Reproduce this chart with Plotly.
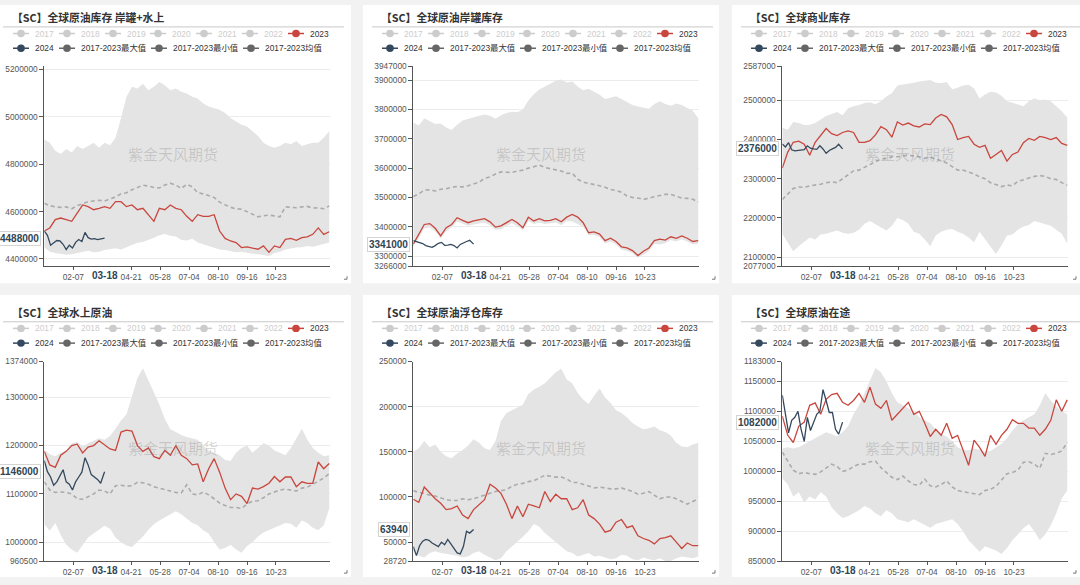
import plotly.graph_objects as go
import pandas as pd

# ---------------- categories ----------------
ALL_DAYS = [d.strftime("%m-%d") for d in pd.date_range("2024-01-01", "2024-12-31")]
WEEKS = ALL_DAYS[::7]
DAYS_2024 = ["01-01", "01-05", "01-09", "01-13", "01-17", "01-21", "01-25", "01-29",
             "02-02", "02-06", "02-10", "02-14", "02-18", "02-22", "02-26", "03-01",
             "03-05", "03-09", "03-13", "03-18"]
X_TICKS = ["02-07", "04-21", "05-28", "07-04", "08-10", "09-16", "10-23"]

TITLES = ["【SC】全球原油库存 岸罐+水上", "【SC】全球原油岸罐库存", "【SC】全球商业库存",
          "【SC】全球水上原油", "【SC】全球原油浮仓库存", "【SC】全球原油在途"]

LEGEND_ROW1 = ["2017", "2018", "2019", "2020", "2021", "2022", "2023"]
LEGEND_ROW2 = ["2024", "2017-2023最大值", "2017-2023最小值", "2017-2023均值"]

# ---------------- values (thousand barrels) ----------------
P1_MAX = [4905, 4891, 4857, 4843, 4864, 4850, 4877, 4864, 4877, 4891, 4870, 4891, 4880, 4912, 4995, 5085,
          5127, 5120, 5140, 5113, 5127, 5147, 5134, 5113, 5120, 5106, 5099, 5085, 5078, 5057, 5044, 5037,
          5030, 5016, 4995, 4981, 4967, 4960, 4940, 4919, 4891, 4877, 4870, 4877, 4891, 4884, 4898, 4877,
          4884, 4891, 4891, 4912, 4940]
P1_MIN = [4450, 4430, 4425, 4420, 4418, 4420, 4425, 4430, 4435, 4428, 4430, 4438, 4440, 4445, 4440, 4450,
          4460, 4468, 4472, 4480, 4490, 4500, 4505, 4498, 4495, 4480, 4478, 4485, 4470, 4462, 4455, 4445,
          4440, 4438, 4432, 4428, 4430, 4425, 4422, 4420, 4415, 4412, 4425, 4430, 4440, 4445, 4448, 4450,
          4455, 4452, 4458, 4465, 4470]
P1_MEAN = [4635, 4625, 4620, 4618, 4620, 4612, 4625, 4632, 4642, 4645, 4648, 4645, 4652, 4662, 4675, 4680,
           4692, 4702, 4712, 4708, 4702, 4700, 4712, 4720, 4712, 4698, 4715, 4705, 4680, 4675, 4668, 4660,
           4640, 4630, 4618, 4612, 4610, 4600, 4590, 4578, 4582, 4585, 4582, 4578, 4620, 4618, 4616, 4620,
           4622, 4615, 4616, 4612, 4624]
P1_2023 = [4518, 4531, 4566, 4573, 4566, 4559, 4594, 4628, 4621, 4608, 4614, 4621, 4614, 4642, 4642, 4621,
           4628, 4608, 4614, 4587, 4559, 4614, 4608, 4628, 4614, 4608, 4580, 4559, 4587, 4580, 4580, 4587,
           4518, 4487, 4476, 4469, 4448, 4451, 4446, 4441, 4455, 4428, 4455, 4448, 4483, 4487, 4479, 4490,
           4493, 4504, 4531, 4504, 4515]
P1_2024 = [4518, 4500, 4458, 4470, 4478, 4476, 4462, 4440, 4458, 4446, 4470, 4482, 4474, 4512, 4490, 4484,
           4486, 4482, 4484, 4488]

P2_MAX = [3755, 3745, 3770, 3760, 3750, 3752, 3738, 3730, 3748, 3762, 3768, 3772, 3778, 3783, 3778, 3768,
          3780, 3788, 3792, 3790, 3800, 3830, 3852, 3868, 3878, 3890, 3898, 3902, 3892, 3895, 3878, 3865,
          3870, 3860, 3850, 3835, 3840, 3845, 3835, 3825, 3815, 3810, 3805, 3802, 3818, 3828, 3818, 3812,
          3820, 3815, 3805, 3795, 3770]
P2_MIN = [3335, 3362, 3395, 3398, 3385, 3360, 3385, 3398, 3418, 3412, 3404, 3408, 3412, 3415, 3405, 3390,
          3392, 3402, 3412, 3402, 3388, 3420, 3410, 3415, 3410, 3412, 3415, 3405, 3420, 3418, 3410, 3400,
          3372, 3372, 3365, 3343, 3350, 3340, 3322, 3318, 3310, 3295, 3305, 3318, 3342, 3340, 3345, 3355,
          3350, 3358, 3350, 3340, 3342]
P2_MEAN = [3503, 3512, 3525, 3526, 3522, 3528, 3530, 3535, 3537, 3536, 3540, 3546, 3552, 3565, 3570, 3580,
           3587, 3586, 3585, 3590, 3593, 3600, 3606, 3610, 3602, 3598, 3593, 3590, 3582, 3583, 3562, 3552,
           3548, 3545, 3540, 3535, 3527, 3524, 3518, 3505, 3500, 3498, 3493, 3498, 3503, 3507, 3511, 3510,
           3505, 3498, 3497, 3494, 3485]
P2_2023 = [3341, 3375, 3408, 3411, 3395, 3369, 3397, 3408, 3431, 3422, 3414, 3420, 3425, 3428, 3417, 3399,
           3403, 3414, 3425, 3414, 3397, 3433, 3420, 3428, 3420, 3422, 3428, 3417, 3433, 3442, 3433, 3414,
           3380, 3383, 3375, 3353, 3361, 3350, 3332, 3328, 3319, 3302, 3317, 3328, 3353, 3358, 3355, 3366,
           3361, 3369, 3361, 3350, 3353]
P2_2024 = [3353, 3350, 3345, 3343, 3336, 3332, 3330, 3336, 3344, 3347, 3337, 3338, 3340, 3336, 3328, 3340,
           3346, 3350, 3354, 3341]

P3_MAX = [2430, 2425, 2445, 2442, 2437, 2438, 2442, 2450, 2460, 2465, 2470, 2462, 2480, 2485, 2488, 2493,
          2495, 2490, 2498, 2510, 2518, 2538, 2540, 2542, 2545, 2548, 2550, 2552, 2545, 2544, 2547, 2528,
          2532, 2538, 2540, 2530, 2505, 2515, 2522, 2520, 2512, 2498, 2494, 2490, 2485, 2498, 2505, 2500,
          2502, 2498, 2485, 2472, 2456]
P3_MIN = [2160, 2138, 2115, 2128, 2140, 2150, 2145, 2158, 2160, 2164, 2168, 2162, 2160, 2162, 2170, 2185,
          2192, 2184, 2175, 2168, 2180, 2200, 2195, 2185, 2165, 2160, 2145, 2128, 2155, 2165, 2170, 2172,
          2165, 2160, 2150, 2138, 2165, 2145, 2128, 2108, 2130, 2155, 2158, 2170, 2178, 2182, 2192, 2188,
          2182, 2180, 2170, 2160, 2135]
P3_MEAN = [2247, 2262, 2275, 2279, 2278, 2282, 2284, 2286, 2290, 2292, 2290, 2300, 2312, 2320, 2322, 2328,
           2336, 2344, 2350, 2352, 2356, 2356, 2358, 2360, 2358, 2356, 2352, 2355, 2350, 2346, 2340, 2330,
           2322, 2322, 2318, 2312, 2305, 2300, 2290, 2285, 2280, 2284, 2282, 2293, 2298, 2302, 2306, 2308,
           2306, 2300, 2298, 2290, 2283]
P3_2023 = [2327, 2368, 2393, 2396, 2388, 2360, 2393, 2410, 2428, 2415, 2410, 2418, 2422, 2418, 2393, 2393,
           2397, 2412, 2433, 2425, 2406, 2445, 2437, 2442, 2435, 2432, 2440, 2438, 2455, 2464, 2458, 2438,
           2400, 2405, 2408, 2388, 2380, 2385, 2352, 2362, 2372, 2345, 2362, 2368, 2392, 2403, 2398, 2408,
           2405, 2400, 2405, 2390, 2385]
P3_2024 = [2389, 2381, 2392, 2374, 2371, 2372, 2374, 2374, 2384, 2378, 2376, 2375, 2384, 2376, 2365, 2372,
           2376, 2380, 2388, 2376]

P4_MAX = [1192, 1182, 1178, 1185, 1190, 1205, 1208, 1198, 1205, 1210, 1215, 1212, 1220, 1235, 1252, 1265,
          1300, 1340, 1360, 1335, 1310, 1285, 1255, 1234, 1228, 1222, 1218, 1215, 1212, 1200, 1190, 1185,
          1180, 1170, 1168, 1185, 1195, 1200, 1185, 1195, 1205, 1200, 1190, 1185, 1180, 1195, 1215, 1235,
          1212, 1195, 1185, 1178, 1180]
P4_MIN = [1037, 1024, 1040, 1015, 995, 985, 978, 995, 1010, 1018, 1026, 1034, 1028, 1010, 1000, 993,
          990, 1000, 1012, 1026, 1037, 1045, 1051, 1058, 1064, 1058, 1048, 1040, 1035, 1025, 1018, 1000,
          985, 988, 995, 985, 978, 992, 1000, 1012, 1020, 1025, 1030, 1035, 1040, 1038, 1030, 1045,
          1040, 1030, 1025, 1035, 1070]
P4_MEAN = [1125, 1108, 1103, 1104, 1103, 1100, 1090, 1089, 1094, 1100, 1108, 1106, 1100, 1117, 1118, 1116,
           1117, 1124, 1123, 1120, 1115, 1112, 1108, 1105, 1103, 1102, 1119, 1100, 1098, 1104, 1098, 1090,
           1081, 1076, 1072, 1072, 1070, 1079, 1085, 1086, 1092, 1100, 1104, 1108, 1110, 1108, 1106, 1112,
           1114, 1120, 1126, 1133, 1142]
P4_2023 = [1188, 1160, 1155, 1180, 1188, 1200, 1203, 1185, 1197, 1200, 1210, 1202, 1193, 1190, 1228, 1232,
           1230, 1200, 1188, 1195, 1177, 1173, 1190, 1180, 1200, 1180, 1173, 1160, 1162, 1125, 1152, 1173,
           1145, 1112, 1088, 1100, 1095, 1080, 1112, 1110, 1115, 1122, 1136, 1125, 1135, 1135, 1115, 1125,
           1122, 1122, 1166, 1152, 1163]
P4_2024 = [1169, 1146, 1135, 1118, 1125, 1138, 1150, 1125, 1120, 1108, 1125, 1135, 1145, 1175, 1160, 1140,
           1135, 1130, 1122, 1146]

P5_MAX = [150, 154, 162, 155, 158, 150, 145, 143, 148, 152, 157, 164, 160, 154, 152, 162,
          184, 193, 196, 199, 202, 214, 219, 222, 226, 232, 238, 242, 230, 226, 215, 208,
          203, 212, 220, 210, 204, 196, 193, 188, 182, 178, 175, 176, 178, 174, 172, 168,
          160, 156, 155, 158, 160]
P5_MIN = [40, 35, 33, 38, 40, 38, 37, 36, 35, 33, 34, 38, 40, 36, 33, 30,
          32, 40, 45, 50, 56, 62, 70, 67, 60, 55, 50, 45, 40, 38, 34, 36,
          38, 34, 35, 33, 31, 32, 36, 35, 31, 30, 33, 31, 30, 32, 29, 29,
          32, 34, 33, 32, 34]
P5_MEAN = [107, 105, 104, 102, 101, 99, 97, 96, 96, 98, 97, 98, 100, 102, 104, 106,
           107, 108, 112, 114, 115, 117, 118, 121, 124, 123, 122, 122, 120, 116, 116, 114,
           112, 110, 111, 110, 109, 109, 110, 108, 106, 103, 104, 106, 102, 98, 100, 100,
           98, 95, 92, 95, 98]
P5_2023 = [97.5, 94, 111, 104, 98, 93, 86, 87, 90, 80, 76, 86, 92, 97, 114, 110,
           104, 92, 76, 90, 78, 92, 90, 88, 106, 95, 103, 98, 98, 86, 88, 97,
           80, 76, 70, 61, 63, 72, 75, 66, 68, 57, 54, 52, 48, 54, 55, 57,
           50, 43, 49, 46, 46]
P5_2024 = [45, 35, 46, 51, 53, 52, 49, 47, 45, 50, 47, 53, 48, 42, 38, 37,
           45, 62, 60, 63.94]

P6_MAX = [1038, 1040, 1038, 1040, 1045, 1050, 1055, 1060, 1065, 1062, 1058, 1065, 1075, 1095, 1110, 1130,
          1150, 1172, 1165, 1150, 1130, 1115, 1110, 1105, 1100, 1090, 1085, 1080, 1070, 1062, 1058, 1050,
          1040, 1036, 1035, 1038, 1036, 1032, 1034, 1040, 1046, 1055, 1068, 1078, 1085, 1090, 1095, 1110,
          1130, 1118, 1108, 1100, 1095]
P6_MIN = [988, 978, 958, 965, 948, 958, 953, 965, 958, 940, 930, 922, 925, 930, 935, 942,
          938, 930, 925, 935, 930, 920, 918, 915, 920, 915, 910, 906, 912, 915, 918, 920,
          912, 900, 885, 875, 866, 875, 872, 868, 862, 872, 885, 895, 905, 912, 900, 885,
          895, 910, 930, 955, 968]
P6_MEAN = [1032, 1018, 1002, 996, 998, 996, 995, 999, 1005, 1012, 1008, 1000, 1002, 1008, 1012, 1012,
           1016, 1017, 1006, 998, 990, 986, 992, 984, 978, 977, 987, 976, 974, 978, 984, 974,
           968, 966, 964, 962, 961, 968, 970, 975, 986, 996, 998, 1002, 1015, 1016, 1012, 1005,
           1030, 1028, 1030, 1034, 1048]
P6_2023 = [1092, 1060, 1048, 1075, 1082, 1110, 1114, 1095, 1120, 1128, 1130, 1115, 1110, 1118, 1130, 1115,
           1140, 1112, 1105, 1118, 1085, 1095, 1105, 1115, 1095, 1100, 1080, 1058, 1070, 1060, 1080, 1055,
           1060, 1035, 1010, 1052, 1040, 1025, 1060, 1045, 1060, 1070, 1086, 1080, 1080, 1072, 1072, 1060,
           1070, 1085, 1119, 1100, 1119]
P6_2024 = [1127, 1095, 1064, 1085, 1090, 1100, 1070, 1050, 1090, 1068, 1080, 1095, 1100, 1136, 1118, 1098,
           1098, 1070, 1062, 1082]

Y_RANGES = [[4369.6, 5214], [3266, 3947], [2077, 2587], [960.5, 1374], [28.72, 250], [850, 1183]]
Y_TICKS = [[4400, 4600, 4800, 5000, 5200],
           [3266, 3300, 3400, 3500, 3600, 3700, 3800, 3900, 3947],
           [2077, 2100, 2200, 2300, 2400, 2500, 2587],
           [960.5, 1000, 1100, 1200, 1300, 1374],
           [28.72, 50, 100, 150, 200, 250],
           [850, 900, 950, 1000, 1050, 1100, 1150, 1183]]

PANELS = [
    (P1_MAX, P1_MIN, P1_MEAN, P1_2023, P1_2024),
    (P2_MAX, P2_MIN, P2_MEAN, P2_2023, P2_2024),
    (P3_MAX, P3_MIN, P3_MEAN, P3_2023, P3_2024),
    (P4_MAX, P4_MIN, P4_MEAN, P4_2023, P4_2024),
    (P5_MAX, P5_MIN, P5_MEAN, P5_2023, P5_2024),
    (P6_MAX, P6_MIN, P6_MEAN, P6_2023, P6_2024),
]

# ---------------- layout geometry (px) ----------------
W, H = 1080, 585
def px(x): return x / W
def py(y): return 1 - y / H

COL_SHIFT = [0, 369, 738]
PLOT_X = [(44.3, 330), (413.3, 699), (782.3, 1068)]
PLOT_Y = [(62.3, 265.7), (362.7, 566)]
CARDS_X = [(0, 351), (363, 719), (732, 1080)]
CARDS_Y = [(0, 283), (295, 582)]
ROW_OFF = [0, 300]

RED = "#c8463d"
DARK = "#34495e"
GRAYDOT = "#666666"
INACTIVE = "#cccccc"
FONT = "Liberation Sans, Noto Sans CJK SC, sans-serif"
CJK = "Noto Sans CJK SC, sans-serif"

fig = go.Figure()
shapes, annotations = [], []
layout = {}

for r in range(2):
    for c in range(3):
        shapes.append(dict(type="rect", xref="paper", yref="paper", layer="below",
                           x0=px(CARDS_X[c][0]), x1=px(CARDS_X[c][1]),
                           y0=py(CARDS_Y[r][1]), y1=py(CARDS_Y[r][0]),
                           fillcolor="white", line=dict(width=0)))

for i, (vmax, vmin, vmean, v23, v24) in enumerate(PANELS):
    r, c = divmod(i, 3)
    sfx = "" if i == 0 else str(i + 1)
    xa, ya = "x" + sfx, "y" + sfx
    common = dict(xaxis=xa, yaxis=ya, mode="lines", showlegend=False, hoverinfo="skip")
    fig.add_trace(go.Scatter(x=WEEKS, y=vmin, line=dict(width=0, color="rgba(0,0,0,0)"), **common))
    fig.add_trace(go.Scatter(x=WEEKS, y=vmax, line=dict(width=0, color="rgba(0,0,0,0)"),
                             fill="tonexty", fillcolor="#e4e4e4", **common))
    fig.add_trace(go.Scatter(x=WEEKS, y=vmean, line=dict(width=1.6, color="#ababab", dash="4px,3px"), **common))
    fig.add_trace(go.Scatter(x=WEEKS, y=v23, line=dict(width=1.3, color=RED), **common))
    fig.add_trace(go.Scatter(x=DAYS_2024, y=v24, line=dict(width=1.3, color=DARK), **common))

    layout["xaxis" + sfx] = dict(
        domain=[px(PLOT_X[c][0]), px(PLOT_X[c][1])], anchor=ya,
        type="category", categoryorder="array", categoryarray=ALL_DAYS, range=[0, len(ALL_DAYS) - 1],
        tickmode="array", tickvals=X_TICKS, ticktext=X_TICKS,
        showline=True, linecolor="#555", linewidth=1, ticks="outside", ticklen=3, tickcolor="#555",
        showgrid=False, zeroline=False, tickfont=dict(family=FONT, size=8.3, color="#555"),
        fixedrange=True)
    layout["yaxis" + sfx] = dict(
        domain=[py(PLOT_Y[r][1]), py(PLOT_Y[r][0])], anchor=xa,
        range=Y_RANGES[i], tickmode="array", tickvals=Y_TICKS[i],
        ticktext=[str(int(round(v * 1000))) for v in Y_TICKS[i]],
        showline=True, linecolor="#555", linewidth=1, ticks="outside", ticklen=4, tickcolor="#555",
        showgrid=True, gridcolor="#ececec", gridwidth=1, zeroline=False,
        tickfont=dict(family=FONT, size=8.3, color="#555"), fixedrange=True)

    x0 = COL_SHIFT[c]
    yo = ROW_OFF[r]
    # title + underline
    annotations.append(dict(xref="paper", yref="paper", x=px(10 + x0), y=py(12.3 + yo),
                            xanchor="left", yanchor="middle", showarrow=False,
                            text="<b>" + TITLES[i] + "</b>",
                            font=dict(family=CJK, size=10.8, color="#333")))
    shapes.append(dict(type="line", xref="paper", yref="paper",
                       x0=px(3 + x0), x1=px(min(344 + x0, 1080)), y0=py(22.3 + yo), y1=py(22.3 + yo),
                       line=dict(color="#c8c8c8", width=1)))
    # legend
    row1_x = [21, 67, 113, 158, 204, 250, 296]
    row2_x = [21, 67, 159, 251]
    items = []
    for k, lab in enumerate(LEGEND_ROW1):
        col = RED if lab == "2023" else INACTIVE
        tcol = "#333" if lab == "2023" else INACTIVE
        items.append((row1_x[k], 29 + yo, lab, col, tcol))
    for k, lab in enumerate(LEGEND_ROW2):
        col = DARK if k == 0 else GRAYDOT
        items.append((row2_x[k], 44 + yo, lab, col, "#333"))
    for cx, cy, lab, col, tcol in items:
        cx += x0
        shapes.append(dict(type="line", xref="paper", yref="paper",
                           x0=px(cx - 8), x1=px(cx + 8), y0=py(cy), y1=py(cy),
                           line=dict(color=col, width=1.5)))
        shapes.append(dict(type="circle", xref="paper", yref="paper",
                           x0=px(cx - 3.8), x1=px(cx + 3.8), y0=py(cy + 3.8), y1=py(cy - 3.8),
                           fillcolor=col, line=dict(color=col, width=0)))
        annotations.append(dict(xref="paper", yref="paper", x=px(cx + 12), y=py(cy),
                                xanchor="left", yanchor="middle", showarrow=False, text=lab,
                                font=dict(family=FONT, size=8.4, color=tcol)))
    # watermark
    wm_x = [173, 541, 910][c]
    wm_y = [151, 450][r]
    annotations.append(dict(xref="paper", yref="paper", x=px(wm_x), y=py(wm_y),
                            xanchor="center", yanchor="middle", showarrow=False, text="紫金天风期货",
                            font=dict(family=CJK, size=15, color="rgba(120,120,120,0.28)")))
    # current value label on y axis
    last = v24[-1]
    annotations.append(dict(xref="paper", yref=ya, x=px(PLOT_X[c][0]), y=last,
                            xanchor="right", yanchor="middle", xshift=-3, showarrow=False,
                            text="<b>" + str(int(round(last * 1000))) + "</b>",
                            font=dict(family=FONT, size=10, color="#2f4554"),
                            bgcolor="white", bordercolor="#d4d4d4", borderwidth=1, borderpad=1))
    # current date label on x axis
    annotations.append(dict(xref=xa, yref="paper", x=DAYS_2024[-1], y=py(PLOT_Y[r][1]),
                            xanchor="center", yanchor="top", yshift=-3, showarrow=False,
                            text="<b>" + DAYS_2024[-1] + "</b>",
                            font=dict(family=FONT, size=10, color="#2f4554"),
                            bgcolor="white", borderpad=0))
    # corner handle
    cxr = CARDS_X[c][1] - 4 if c < 2 else 1076
    cyb = CARDS_Y[r][1] - 4
    shapes.append(dict(type="line", xref="paper", yref="paper", x0=px(cxr - 3), x1=px(cxr),
                       y0=py(cyb), y1=py(cyb), line=dict(color="#777", width=1)))
    shapes.append(dict(type="line", xref="paper", yref="paper", x0=px(cxr), x1=px(cxr),
                       y0=py(cyb - 3), y1=py(cyb), line=dict(color="#777", width=1)))

fig.update_layout(
    width=W, height=H, autosize=False,
    margin=dict(l=0, r=0, t=0, b=0),
    paper_bgcolor="#f2f2f2", plot_bgcolor="rgba(0,0,0,0)",
    showlegend=False, shapes=shapes, annotations=annotations,
    font=dict(family=FONT),
    **layout,
)

fig.write_html("out.html", config={"displayModeBar": False, "staticPlot": True},
               post_script="document.body.style.margin='0px';")
